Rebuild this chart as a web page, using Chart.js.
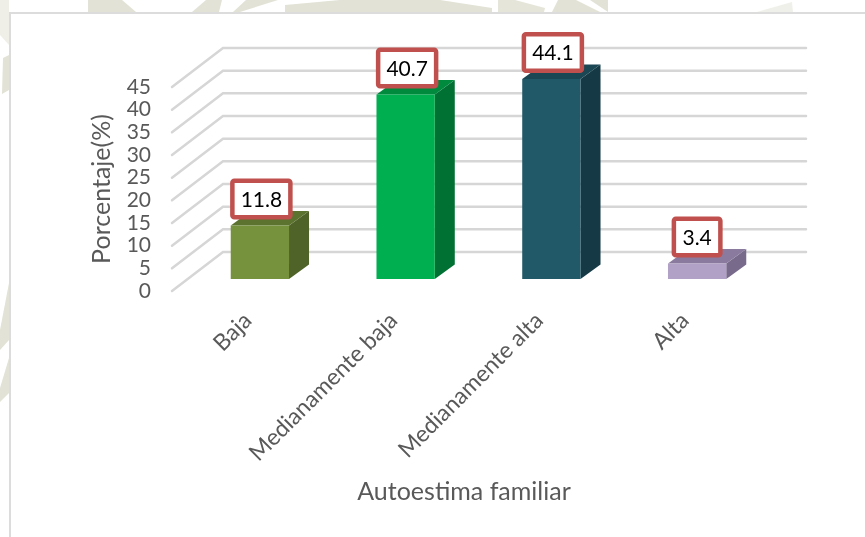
<!DOCTYPE html>
<html>
<head>
<meta charset="utf-8">
<style>
html,body{margin:0;padding:0;background:#fff;width:865px;height:537px;overflow:hidden}
#wm{position:absolute;left:0;top:0}
#panel{position:absolute;left:9px;top:12px;width:860px;height:530px;background:#fff;border:2px solid #dcdcdc;box-sizing:border-box}
#wrap{position:absolute;left:0;top:0;width:865px;height:537px}
</style>
</head>
<body>
<svg id="wm" width="865" height="537" fill="#e2e2d6">
<polygon points="88,0 122,0 136,12 88,12"/>
<polygon points="206,0 222,0 219,12 192,12"/>
<polygon points="246,0 278,0 240,12 233,12"/>
<polygon points="285,5 340,0 440,0 492,8 492,12 285,12"/>
<polygon points="498,0 515,0 545,8 544,12 498,12" opacity=".9"/>
<polygon points="552,12 558,0 576,0 600,12"/>
<polygon points="590,0 608,0 608,12"/>
<polygon points="757,12 792,2 793,12" opacity=".5"/>
<polygon points="0,0 9,0 9,45 0,35" opacity=".55"/>
<polygon points="3,58 9,55 9,90 2,94"/>
<polygon points="0,330 9,283 9,340 0,350"/>
<polygon points="0,388 9,358 9,393 0,402"/>
</svg>
<div id="panel"></div>
<div id="wrap"><canvas id="c" width="865" height="537"></canvas></div>
<script src="https://cdn.jsdelivr.net/npm/chart.js@4/dist/chart.umd.min.js"></script>
<script>
const categories = ["Baja", "Medianamente baja", "Medianamente alta", "Alta"];
const values = [11.8, 40.7, 44.1, 3.4];
const frontColors = ["#76923C", "#00B050", "#215968", "#B2A1C7"];
const sideColors = ["#4F6228", "#007033", "#153A45", "#776A8A"];
const topColors = ["#5C7330", "#008A3E", "#1A4753", "#8A7B9E"];
const yTicks = [0, 5, 10, 15, 20, 25, 30, 35, 40, 45];
const yTitle = "Porcentaje(%)";
const xTitle = "Autoestima familiar";

const uiFont = "Lato, sans-serif";
const GREY = "#595959";

const depth3d = {
  id: "depth3d",
  beforeDatasetsDraw(chart) {
    const {ctx, chartArea: a, scales: {y}} = chart;
    ctx.save();
    ctx.lineCap = "round";
    for (const t of yTicks) {
      const p = y.getPixelForValue(t);
      ctx.strokeStyle = "#D6D6D6";
      ctx.lineWidth = 2.5;
      ctx.beginPath();
      ctx.moveTo(a.left - 15, p + 12);
      ctx.lineTo(a.left + 36, p - 27);
      ctx.lineTo(a.right + 36, p - 27);
      ctx.stroke();
    }
    const meta = chart.getDatasetMeta(0);
    meta.data.forEach((bar, i) => {
      const h = bar.width / 2, l = bar.x - h, r = bar.x + h, t = bar.y, b = bar.base;
      const dx = 20, dy = 14.5;
      ctx.fillStyle = sideColors[i];
      ctx.beginPath();
      ctx.moveTo(r, t); ctx.lineTo(r + dx, t - dy); ctx.lineTo(r + dx, b - dy); ctx.lineTo(r, b);
      ctx.closePath(); ctx.fill();
      ctx.fillStyle = topColors[i];
      ctx.beginPath();
      ctx.moveTo(l, t); ctx.lineTo(l + dx, t - dy); ctx.lineTo(r + dx, t - dy); ctx.lineTo(r, t);
      ctx.closePath(); ctx.fill();
    });
    ctx.restore();
  },
  afterDatasetsDraw(chart) {
    const {ctx} = chart;
    const meta = chart.getDatasetMeta(0);
    ctx.save();
    ctx.font = "21px " + uiFont;
    ctx.textAlign = "center";
    ctx.textBaseline = "middle";
    meta.data.forEach((bar, i) => {
      const txt = String(values[i]);
      const w = txt.length > 3 ? 58 : 46.5, h = 36.5;
      const cx = bar.x + (txt.length > 3 ? 1.5 : 0), cy = bar.y - 26.5;
      ctx.beginPath();
      ctx.roundRect(cx - w / 2, cy - h / 2, w, h, 2);
      ctx.fillStyle = "#fff";
      ctx.fill();
      ctx.lineWidth = 4.5;
      ctx.strokeStyle = "#C0504D";
      ctx.stroke();
      ctx.fillStyle = "#000";
      ctx.fillText(txt, cx, cy + 1);
    });
    ctx.fillStyle = GREY;
    ctx.font = "25px " + uiFont;
    ctx.fillText(xTitle, 464, 492);
    ctx.translate(102, 189);
    ctx.rotate(-Math.PI / 2);
    ctx.fillText(yTitle, 0, 0);
    ctx.restore();
  }
};

new Chart(document.getElementById("c"), {
  type: "bar",
  data: {
    labels: categories,
    datasets: [{ data: values, backgroundColor: frontColors, barPercentage: 0.4, categoryPercentage: 1 }]
  },
  options: {
    responsive: false,
    animation: false,
    layout: { padding: { left: 0, right: 95, top: 75, bottom: 0 } },
    plugins: { legend: { display: false }, tooltip: { enabled: false } },
    scales: {
      x: {
        grid: { display: false },
        border: { display: false },
        afterFit(s) { s.height = 258; },
        ticks: { color: GREY, font: { family: uiFont, size: 23 }, minRotation: 45, maxRotation: 45, padding: 20, labelOffset: -12, autoSkip: false }
      },
      y: {
        min: 0, max: 45,
        afterFit(s) { s.width = 187; },
        grid: { display: false, drawTicks: false },
        border: { display: false },
        afterBuildTicks(s) { s.ticks = yTicks.map(v => ({ value: v })); },
        ticks: { color: GREY, font: { family: uiFont, size: 21 }, labelOffset: 12, padding: 36, autoSkip: false }
      }
    }
  },
  plugins: [depth3d]
});
</script>
</body>
</html>
